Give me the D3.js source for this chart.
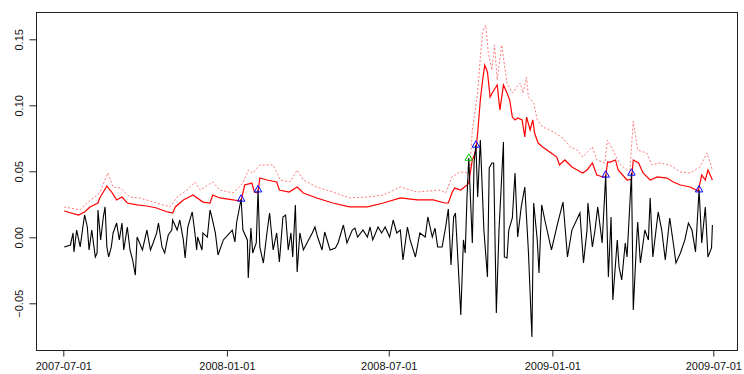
<!DOCTYPE html>
<html><head><meta charset="utf-8">
<script src="https://cdn.jsdelivr.net/npm/d3@7"></script>
<style>body{margin:0;background:#fff} svg{display:block} text{font-family:"Liberation Sans",Arial,sans-serif}</style>
</head><body><svg id="c" width="744" height="374"></svg>
<script>
// ---- data (days since startDate, values) ----
const startDate = "2007-07-01";
const xTickLabels = ["2007-07-01","2008-01-01","2008-07-01","2009-01-01","2009-07-01"];
const yTicks = [-0.05, 0.00, 0.05, 0.10, 0.15];

const retDays = [1,8,11,12,15,19,22,24,27,29,32,36,38,39,42,45,47,49,51,54,
56,60,63,66,68,72,75,78,81,83,89,94,98,101,105,107,111,114,118,122,
123,128,131,135,137,140,145,148,150,151,156,157,162,165,167,171,174,180,190,193,
195,200,202,207,208,211,213,217,219,221,225,229,232,236,240,243,247,250,253,256,
258,261,263,266,270,274,280,283,286,291,294,300,306,309,315,319,325,328,331,337,
342,345,348,354,358,362,367,371,375,379,382,387,390,396,401,407,410,415,418,421,
426,430,433,436,439,441,446,447,450,452,454,456,460,462,464,466,469,473,477,479,
482,484,487,490,495,496,499,501,505,508,511,515,519,523,527,529,533,535,538,542,
549,556,562,567,572,581,585,589,590,595,598,601,606,610,613,616,618,623,625,628,
632,634,639,641,645,646,649,654,658,660,663,669,673,677,682,686,689,694,699,703,
707,711,715,718,722,725,729,730];
const retValues = [-0.0073,-0.0058,0.0033,-0.0111,0.0055,-0.0073,0.0078,0.0169,0.0078,-0.0096,0.0055,-0.0149,-0.0119,0.0207,-0.0020,0.0154,0.0230,-0.0073,-0.0149,-0.0073,
0.0033,0.0108,-0.0020,0.0108,-0.0096,0.0078,-0.0096,-0.0172,-0.0286,0.0002,-0.0096,0.0055,-0.0096,-0.0043,0.0033,0.0108,-0.0073,-0.0119,0.0017,0.0055,
0.0131,0.0055,0.0131,-0.0020,-0.0157,0.0078,0.0192,0.0033,-0.0096,0.0002,-0.0096,0.0033,0.0002,0.0207,0.0154,0.0033,-0.0134,-0.0020,0.0055,-0.0035,
0.0116,0.0290,0.0055,-0.0020,-0.0308,0.0070,-0.0119,-0.0043,0.0360,-0.0073,-0.0195,0.0033,0.0184,-0.0096,0.0033,-0.0187,0.0154,0.0169,-0.0096,0.0033,
-0.0149,0.0245,-0.0263,0.0033,-0.0096,-0.0043,0.0033,0.0078,0.0002,-0.0096,0.0040,-0.0096,-0.0081,-0.0043,0.0093,-0.0043,0.0055,0.0070,0.0002,0.0055,
0.0002,0.0078,-0.0020,0.0078,0.0033,0.0078,0.0002,0.0131,0.0033,0.0055,-0.0172,0.0078,-0.0020,-0.0149,0.0033,0.0002,0.0154,0.0002,0.0070,-0.0073,
-0.0073,0.0078,0.0215,-0.0210,0.0154,0.0184,-0.0452,-0.0589,-0.0020,-0.0119,0.0305,0.0600,-0.0043,0.0570,0.0699,0.0305,0.0737,0.0055,-0.0301,0.0525,
0.0563,0.0563,-0.0573,0.0055,0.0722,-0.0149,-0.0157,0.0055,0.0146,0.0487,0.0002,0.0230,0.0381,-0.0096,-0.0755,0.0260,-0.0020,-0.0270,0.0245,0.0116,
-0.0096,0.0108,0.0267,-0.0149,0.0055,0.0184,-0.0195,0.0055,0.0260,-0.0073,0.0055,0.0230,-0.0043,0.0472,-0.0301,0.0154,-0.0475,-0.0020,-0.0225,-0.0323,
-0.0043,-0.0149,0.0487,-0.0551,0.0002,0.0116,-0.0195,0.0055,-0.0020,0.0298,-0.0149,0.0192,0.0055,-0.0172,0.0146,-0.0043,-0.0195,-0.0119,-0.0020,0.0108,
0.0055,-0.0111,0.0360,-0.0043,0.0230,-0.0149,-0.0081,0.0093];

const varDays = [1,17,24,30,39,41,49,55,60,66,72,83,94,105,117,123,126,135,146,157,
165,168,176,191,199,200,204,212,215,218,219,221,229,240,243,254,263,270,285,303,
322,342,360,379,398,416,429,433,437,440,447,454,456,457,460,462,464,466,469,472,
474,477,480,483,488,491,495,499,502,505,508,511,516,519,521,525,528,530,534,539,
547,555,558,564,572,578,584,589,595,600,607,610,612,615,621,624,634,639,641,647,
652,660,668,679,686,694,705,714,718,722,725,730];
const varValues = [0.0199,0.0169,0.0192,0.0230,0.0260,0.0298,0.0389,0.0336,0.0283,0.0305,0.0260,0.0245,0.0237,0.0222,0.0192,0.0184,0.0230,0.0283,0.0320,0.0267,
0.0260,0.0320,0.0298,0.0283,0.0275,0.0278,0.0396,0.0411,0.0343,0.0336,0.0340,0.0449,0.0434,0.0419,0.0358,0.0343,0.0381,0.0336,0.0298,0.0260,
0.0230,0.0230,0.0260,0.0298,0.0283,0.0283,0.0260,0.0260,0.0336,0.0373,0.0358,0.0396,0.0411,0.0457,0.0586,0.0620,0.0660,0.0790,0.1040,0.1214,
0.1305,0.1252,0.1063,0.1101,0.1154,0.0964,0.1154,0.1093,0.1040,0.0911,0.0889,0.0904,0.0889,0.0760,0.0911,0.0813,0.0889,0.0790,0.0714,0.0684,
0.0646,0.0608,0.0548,0.0586,0.0533,0.0510,0.0487,0.0510,0.0563,0.0472,0.0457,0.0460,0.0570,0.0570,0.0586,0.0510,0.0434,0.0440,0.0586,0.0563,
0.0487,0.0434,0.0457,0.0449,0.0419,0.0396,0.0381,0.0350,0.0472,0.0434,0.0510,0.0434];

const esDays = [1,19,28,41,50,56,64,75,86,105,120,128,139,148,154,168,176,191,202,208,
213,221,236,244,255,263,270,285,303,322,342,360,379,398,424,430,437,446,457,460,
466,469,472,475,478,482,485,488,493,499,505,510,514,517,521,523,529,533,539,547,
553,562,570,578,584,595,600,609,612,618,625,637,641,646,656,662,671,682,694,705,
716,724,730];
const esValues = [0.0230,0.0207,0.0267,0.0336,0.0487,0.0381,0.0373,0.0305,0.0298,0.0260,0.0230,0.0305,0.0358,0.0419,0.0358,0.0419,0.0358,0.0336,0.0411,0.0510,
0.0487,0.0548,0.0548,0.0434,0.0419,0.0510,0.0434,0.0381,0.0343,0.0298,0.0305,0.0320,0.0381,0.0343,0.0358,0.0336,0.0457,0.0495,0.0487,0.0813,
0.1093,0.1366,0.1570,0.1608,0.1396,0.1267,0.1457,0.1192,0.1457,0.1169,0.1093,0.1139,0.1169,0.1093,0.1214,0.1063,0.1017,0.0889,0.0836,0.0813,
0.0790,0.0752,0.0684,0.0661,0.0608,0.0684,0.0586,0.0563,0.0737,0.0661,0.0563,0.0487,0.0880,0.0661,0.0639,0.0548,0.0563,0.0548,0.0495,0.0487,
0.0533,0.0639,0.0510];

const blueDays = [200, 219, 464, 610, 639, 715];
const greenDays = [456];

// ---- drawing ----
const box = {l: 36.5, t: 12.5, r: 737.5, b: 350.5};
const parse = d3.utcParse("%Y-%m-%d");
const t0 = parse(startDate);
const toDate = d => d3.utcDay.offset(t0, d);

const x = d3.scaleUtc().domain([parse("2007-07-01"), parse("2009-07-01")]).range([63.3, 713.3]);
const y = d3.scaleLinear().domain([0, 0.15]).range([237.3, 39.3]);

const svg = d3.select("#c");
svg.append("defs").append("clipPath").attr("id","clip")
  .append("rect").attr("x", box.l).attr("y", box.t).attr("width", box.r-box.l).attr("height", box.b-box.t);

const zip = (ds, vs) => ds.map((d,i) => ({date: toDate(d), v: vs[i]}));
const ret = zip(retDays, retValues);
const vr = zip(varDays, varValues);
const es = zip(esDays, esValues);

const line = d3.line().x(d => x(d.date)).y(d => y(d.v));
const plot = svg.append("g").attr("clip-path","url(#clip)");

plot.append("path").datum(es).attr("d", line).attr("fill","none")
  .attr("stroke","#ff7777").attr("stroke-width",1).attr("stroke-dasharray","2,2");
plot.append("path").datum(vr).attr("d", line).attr("fill","none")
  .attr("stroke","#ff0000").attr("stroke-width",1.2);
plot.append("path").datum(ret).attr("d", line).attr("fill","none")
  .attr("stroke","#000").attr("stroke-width",1.1);

const lookup = d => ret[retDays.indexOf(d)];
const tri = d3.symbol().type(d3.symbolTriangle).size(24);
plot.selectAll(".bt").data(blueDays.map(lookup)).join("path")
  .attr("transform", d => `translate(${x(d.date)},${y(d.v)})`)
  .attr("d", tri).attr("fill","none").attr("stroke","#0000ff").attr("stroke-width",1);
plot.selectAll(".gt").data(greenDays.map(lookup)).join("path")
  .attr("transform", d => `translate(${x(d.date)},${y(d.v)})`)
  .attr("d", tri).attr("fill","none").attr("stroke","#00cc00").attr("stroke-width",1);

// box
svg.append("rect").attr("x", box.l).attr("y", box.t).attr("width", box.r-box.l).attr("height", box.b-box.t)
  .attr("fill","none").attr("stroke","#222").attr("stroke-width",1);

// y axis
const ya = svg.append("g").attr("transform", `translate(${box.l},0)`)
  .call(d3.axisLeft(y).tickValues(yTicks).tickSize(7).tickFormat(d3.format(".2f")));
ya.select(".domain").remove();
ya.selectAll("line").attr("stroke","#222");
ya.selectAll("text").attr("x", null).attr("dy", null).attr("y", null)
  .attr("transform","translate(-14,0) rotate(-90)").attr("text-anchor","middle")
  .attr("font-size", 11).attr("fill","#111").attr("font-family",'"Liberation Sans",Arial,sans-serif');

// x axis
const xa = svg.append("g").attr("transform", `translate(0,${box.b})`)
  .call(d3.axisBottom(x).tickValues(xTickLabels.map(parse)).tickSize(6).tickFormat(d3.utcFormat("%Y-%m-%d")));
xa.select(".domain").remove();
xa.selectAll("line").attr("stroke","#222");
xa.selectAll("text").attr("y", 19).attr("dy", null)
  .attr("font-size", 11).attr("fill","#111").attr("font-family",'"Liberation Sans",Arial,sans-serif');
</script></body></html>
